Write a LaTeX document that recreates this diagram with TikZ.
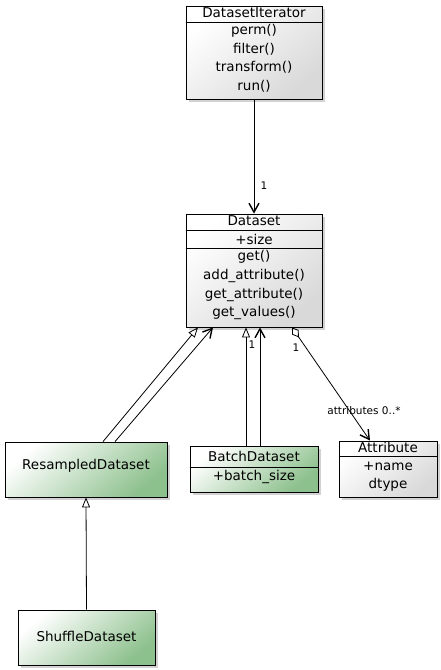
\documentclass[tikz,border=0pt]{standalone}
\usepackage{fontspec}
\setmainfont{DejaVu Sans}
\usetikzlibrary{arrows.meta,shadows}
\begin{document}
\begin{tikzpicture}[x=1pt,y=-1pt,
  base/.style={draw=black,line width=0.8pt,inner sep=0pt,
    drop shadow={shadow xshift=2.5pt,shadow yshift=-2.5pt,opacity=0.35}},
  gbox/.style={base,top color=white,bottom color=black!15,shading angle=40},
  grbox/.style={base,top color=white,bottom color=green!45!black!45,shading angle=40},
  txt/.style={font=\fontsize{13.5}{15}\selectfont,inner sep=0pt},
  lbl/.style={font=\fontsize{10.5}{12}\selectfont,inner sep=0pt},
  conn/.style={line width=0.8pt},
  inh/.style={conn,-{Triangle[open,length=10pt,width=8pt]}},
  nav/.style={conn,-{Straight Barb[length=9pt,width=10pt,line width=1.4pt]}},
  agg/.style={conn,{Diamond[open,length=12pt,width=8pt]}-{Straight Barb[length=9pt,width=10pt,line width=1.4pt]}}]
\useasboundingbox[fill=white] (0,0) rectangle (440,670);

% DatasetIterator
\node[gbox,minimum width=136pt,minimum height=93pt] (it) at (254,52.5) {};
\draw[line width=0.8pt] (it.west |- 0,22) -- (it.east |- 0,22);
\node[txt] (it0) at (254,13) {DatasetIterator};
\node[txt] (it1) at (254,31) {perm()};
\node[txt] (it2) at (254,49) {filter()};
\node[txt] (it3) at (254,67) {transform()};
\node[txt] (it4) at (254,86) {run()};

% Dataset
\node[gbox,minimum width=136pt,minimum height=113pt] (ds) at (254,270.5) {};
\draw[line width=0.8pt] (ds.west |- 0,230) -- (ds.east |- 0,230);
\draw[line width=0.8pt] (ds.west |- 0,248) -- (ds.east |- 0,248);
\node[txt] (ds0) at (254,221) {Dataset};
\node[txt] (ds1) at (254,239) {+size};
\node[txt] (ds2) at (254,257) {get()};
\node[txt] (ds3) at (254,276) {add\_attribute()};
\node[txt] (ds4) at (254,295) {get\_attribute()};
\node[txt] (ds5) at (254,313) {get\_values()};

% ResampledDataset
\node[grbox,minimum width=162pt,minimum height=55pt] (rd) at (86,469.5) {};
\node[txt] (rd0) at (86,466) {ResampledDataset};

% BatchDataset
\node[grbox,minimum width=128pt,minimum height=46pt] (bd) at (254,469) {};
\draw[line width=0.8pt] (bd.west |- 0,467) -- (bd.east |- 0,467);
\node[txt] (bd0) at (254,456) {BatchDataset};
\node[txt] (bd1) at (254,477) {+batch\_size};

% Attribute
\node[gbox,minimum width=98pt,minimum height=56pt] (at) at (388,469) {};
\draw[line width=0.8pt] (at.west |- 0,456) -- (at.east |- 0,456);
\node[txt] (at0) at (388,447) {Attribute};
\node[txt] (at1) at (388,466) {+name};
\node[txt] (at2) at (388,485) {dtype};

% ShuffleDataset
\node[grbox,minimum width=137pt,minimum height=55pt] (sd) at (86.5,637.5) {};
\node[txt] (sd0) at (86.5,636) {ShuffleDataset};

% connectors
\draw[nav] (it.south) -- (ds.north);
\node[lbl] (l1) at (264,186) {1};

\draw[inh] ([xshift=17pt]rd.north) -- ([xshift=-56pt]ds.south);
\draw[nav] ([xshift=29pt]rd.north) -- ([xshift=-41pt]ds.south);

\draw[inh] ([xshift=-8pt]bd.north) -- ([xshift=-8pt]ds.south);
\draw[nav] ([xshift=6pt]bd.north) -- ([xshift=6pt]ds.south);
\node[lbl] (l2) at (252,345) {1};

\draw[agg] ([xshift=38pt]ds.south) -- ([xshift=-18pt]at.north);
\node[lbl] (l3) at (296,348) {1};
\node[lbl] (l4) at (364,411) {attributes 0..*};

\draw[inh] (sd.north) -- (rd.south);
\end{tikzpicture}
\end{document}
